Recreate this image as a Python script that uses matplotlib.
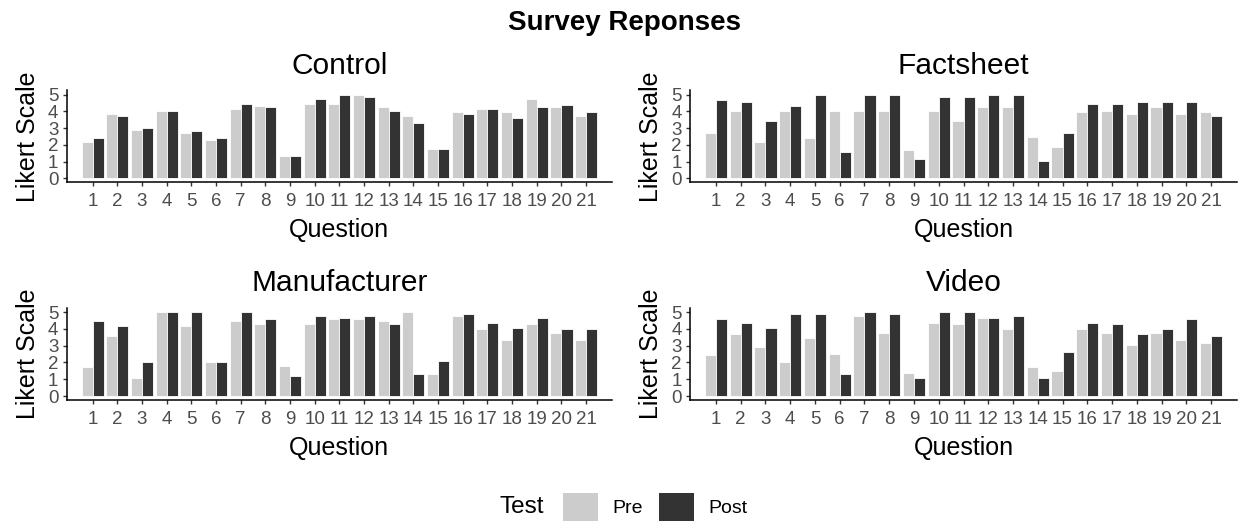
import matplotlib
matplotlib.use("Agg")
import matplotlib.pyplot as plt
from matplotlib.patches import Patch
import numpy as np

questions = list(range(1, 22))
question_labels = [str(q) for q in questions]

control_pre = [2.18, 3.82, 2.88, 4.02, 2.68, 2.28, 4.14, 4.34, 1.34, 4.44, 4.46,
               4.98, 4.24, 3.74, 1.76, 3.94, 4.14, 3.94, 4.76, 4.24, 3.74]
control_post = [2.38, 3.72, 3.0, 4.02, 2.8, 2.38, 4.44, 4.24, 1.34, 4.74, 4.98,
                4.86, 4.04, 3.3, 1.76, 3.84, 4.14, 3.62, 4.24, 4.36, 3.94]

factsheet_pre = [2.7, 4.02, 2.18, 4.0, 2.38, 4.0, 4.0, 4.0, 1.66, 4.0, 3.42,
                 4.24, 4.24, 2.48, 1.86, 3.94, 4.04, 3.84, 4.24, 3.84, 3.94]
factsheet_post = [4.66, 4.54, 3.42, 4.34, 4.98, 1.56, 5.0, 5.0, 1.16, 4.86, 4.86,
                  5.0, 5.0, 1.06, 2.7, 4.44, 4.44, 4.56, 4.56, 4.56, 3.72]

manufacturer_pre = [1.71, 3.57, 1.1, 5.0, 4.16, 2.0, 4.48, 4.28, 1.81, 4.28, 4.58,
                    4.58, 4.48, 5.0, 1.3, 4.78, 3.98, 3.37, 4.28, 3.77, 3.37]
manufacturer_post = [4.48, 4.16, 2.0, 5.0, 5.0, 2.0, 5.0, 4.58, 1.2, 4.78, 4.68,
                     4.78, 4.28, 1.3, 2.1, 4.88, 4.38, 4.08, 4.68, 3.98, 3.98]

video_pre = [2.43, 3.67, 2.95, 2.0, 3.47, 2.53, 4.78, 3.77, 1.4, 4.38, 4.28,
             4.68, 3.98, 1.71, 1.49, 3.98, 3.77, 3.05, 3.77, 3.37, 3.15]
video_post = [4.58, 4.38, 4.08, 4.88, 4.88, 1.3, 5.0, 4.88, 1.1, 5.0, 5.0,
              4.68, 4.78, 1.1, 2.63, 4.38, 4.28, 3.67, 3.98, 4.58, 3.57]

panels = [
    ("Control", control_pre, control_post),
    ("Factsheet", factsheet_pre, factsheet_post),
    ("Manufacturer", manufacturer_pre, manufacturer_post),
    ("Video", video_pre, video_post),
]

PRE_COLOR = "#CCCCCC"
POST_COLOR = "#333333"

plt.rcParams.update({
    "font.family": ["Liberation Sans", "DejaVu Sans"],
})

W, H = 1238, 525
fig = plt.figure(figsize=(W / 100, H / 100), dpi=100)

# axes rectangles in pixels: left, top, right, bottom
rects = [
    (66.7, 90.5, 612, 182.4),
    (690, 90.5, 1237, 182.4),
    (66.7, 308, 612, 400.2),
    (690, 308, 1237, 400.2),
]

x = np.array(questions, dtype=float)
bw = 0.45

for (name, pre, post), (l, t, r, b) in zip(panels, rects):
    ax = fig.add_axes([l / W, 1 - b / H, (r - l) / W, (b - t) / H])
    ax.bar(x - bw / 2, pre, width=bw, color=PRE_COLOR, edgecolor="white", linewidth=0.6)
    ax.bar(x + bw / 2, post, width=bw, color=POST_COLOR, edgecolor="white", linewidth=0.6)
    ax.set_xlim(-0.05, 22.05)
    ax.set_ylim(-0.25, 5.25)
    ax.set_xticks(x)
    ax.set_xticklabels(question_labels)
    ax.set_yticks(range(6))
    for s in ["top", "right"]:
        ax.spines[s].set_visible(False)
    for s in ["left", "bottom"]:
        ax.spines[s].set_linewidth(1.1)
        ax.spines[s].set_color("black")
    ax.tick_params(axis="both", direction="out", length=3, width=1.0,
                   color="#333333", labelcolor="#4D4D4D", labelsize=13.5, pad=3)
    ax.tick_params(axis="x", pad=4.5)
    ax.set_title(name, fontsize=21.5, pad=12)
    ax.set_xlabel("Question", fontsize=18, labelpad=6)
    ax.set_ylabel("Likert Scale", fontsize=18, labelpad=6)

fig.text(624 / W, 1 - 30 / H, "Survey Reponses", ha="center", va="baseline",
         fontsize=20, fontweight="bold")

fig.text(500 / W, 1 - 507 / H, "Test", ha="left", va="center", fontsize=17.5)
handles = [Patch(facecolor=PRE_COLOR, edgecolor="none", label="Pre"),
           Patch(facecolor=POST_COLOR, edgecolor="none", label="Post")]
fig.legend(handles=handles, loc="center left", bbox_to_anchor=(563 / W, 1 - 507 / H),
           ncol=2, frameon=False, fontsize=14, handlelength=1.8, handleheight=1.8,
           handletextpad=0.75, columnspacing=0.8, borderpad=0, borderaxespad=0)

fig.savefig("out.png", dpi=100)
